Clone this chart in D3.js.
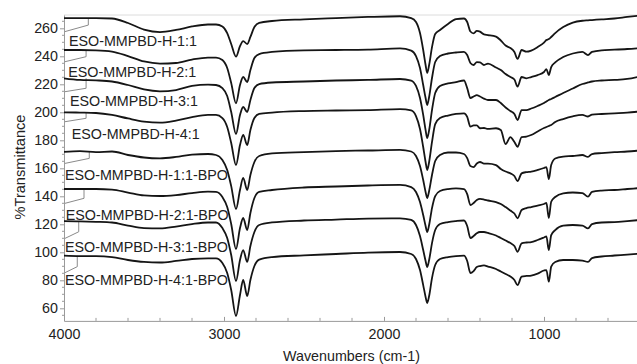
<!DOCTYPE html>
<html>
<head>
<meta charset="utf-8">
<script src="https://cdn.jsdelivr.net/npm/d3@7"></script>
<style>
  html, body { margin: 0; padding: 0; background: #fff; }
  svg { display: block; }
  text { font-family: "Liberation Sans", Arial, sans-serif; }
</style>
</head>
<body>
<svg id="chart" width="637" height="364"></svg>
<script>
// FTIR spectra, %T versus wavenumber (cm-1), stacked with vertical offsets.
const wavenumbers = [4000,3900,3800,3700,3600,3500,3400,3300,3200,3100,
  3050,3010,2980,2955,2925,2900,2880,2855,2835,2810,
  2780,2700,2500,2300,2100,1900,1830,1800,1775,1755,
  1740,1730,1718,1700,1680,1650,1600,1550,1500,1480,
  1460,1440,1420,1400,1375,1350,1300,1270,1240,1210,
  1185,1165,1140,1110,1080,1040,1000,985,970,955,
  930,880,820,760,725,700,640,560,480,400];

const seriesNames = ["ESO-MMPBD-H-1:1","ESO-MMPBD-H-2:1","ESO-MMPBD-H-3:1","ESO-MMPBD-H-4:1",
  "ESO-MMPBD-H-1:1-BPO","ESO-MMPBD-H-2:1-BPO","ESO-MMPBD-H-3:1-BPO","ESO-MMPBD-H-4:1-BPO"];

const tH11 = [267.3,267.3,267.3,267.0,263.8,259.1,257.3,258.8,261.3,262.7,
  262.7,261.3,256.6,248.8,239.7,247.3,250.9,248.8,253.8,260.9,
  263.8,265.2,266.4,267.3,268.1,268.6,267.3,264.5,256.6,244.5,
  233.8,228.1,233.8,246.6,255.9,258.8,263.1,266.6,267.0,264.5,
  257.7,256.4,258.1,257.6,255.6,255.2,254.1,251.3,247.7,245.9,
  243.1,238.1,244.5,243.3,244.1,246.6,249.8,251.6,252.3,253.8,
  256.6,260.9,264.1,265.4,265.7,265.9,266.4,267.0,268.1,269.1];

const tH21 = [244.5,244.5,244.3,243.4,240.2,236.3,234.8,235.2,237.7,239.1,
  239.1,237.3,231.6,220.9,206.4,219.5,225.2,221.6,230.2,238.8,
  241.6,243.1,244.3,244.5,244.8,245.6,244.1,240.2,231.6,219.5,
  210.2,205.2,210.9,224.5,235.9,240.2,242.0,242.7,243.1,240.9,
  235.2,233.8,235.9,235.6,233.8,234.8,232.0,230.2,227.3,225.2,
  223.4,218.3,225.2,224.3,225.2,226.6,228.8,230.9,226.6,232.3,
  235.6,239.5,242.0,243.1,240.9,243.1,244.3,244.7,245.2,245.9];

const tH31 = [224.3,223.1,222.8,222.0,219.5,216.3,215.0,215.9,218.8,219.8,
  219.5,217.3,211.6,200.2,184.5,198.1,203.8,200.2,208.8,217.3,
  220.2,221.3,222.0,222.7,223.1,223.8,222.7,218.8,210.2,198.1,
  187.3,181.6,187.3,201.6,213.8,218.8,220.6,221.6,222.7,217.3,
  210.2,211.3,212.3,211.3,209.8,208.8,208.8,206.6,203.4,200.9,
  198.8,194.5,201.6,201.6,202.7,204.5,206.6,207.7,208.8,209.5,
  210.9,213.8,217.0,220.2,221.3,222.0,222.7,223.1,223.8,225.6];

const tH41 = [200.0,199.8,199.5,198.1,195.6,193.4,192.6,194.1,196.6,198.1,
  198.1,195.9,189.5,178.1,162.3,176.6,183.8,176.6,187.3,195.9,
  198.8,199.8,200.9,201.3,201.6,202.3,201.3,197.3,188.1,175.2,
  164.5,158.8,164.5,178.8,191.6,195.9,197.7,198.8,199.3,196.8,
  189.7,190.6,190.6,188.6,188.8,188.1,188.6,187.3,177.3,182.3,
  178.8,175.4,182.3,182.6,183.8,186.3,188.8,189.5,190.2,190.9,
  193.1,195.2,197.1,198.1,197.0,198.4,198.8,199.3,199.8,200.6];

const tH11BPO = [171.8,172.3,171.6,172.0,169.5,167.7,167.1,168.1,169.8,170.2,
  169.5,165.9,158.8,147.3,130.9,144.5,153.1,144.5,155.2,164.5,
  168.8,170.6,171.6,172.3,172.7,173.1,172.0,168.8,161.6,151.6,
  143.1,138.8,143.8,155.2,165.2,169.5,171.3,171.3,170.2,167.3,
  161.6,160.9,163.4,164.5,163.4,163.4,162.3,159.5,157.7,156.4,
  154.5,150.9,156.4,157.3,157.7,158.8,160.2,160.9,152.3,162.3,
  167.0,168.4,168.8,169.5,168.1,170.2,170.9,171.6,172.0,172.7];

const tH21BPO = [145.2,145.2,145.2,144.8,142.7,140.6,140.2,140.9,142.3,143.3,
  143.1,139.5,132.3,120.2,102.3,117.3,124.5,115.9,128.1,138.8,
  143.1,144.5,146.3,147.0,147.7,148.1,146.6,143.1,135.9,126.6,
  118.8,114.5,119.5,131.6,140.2,143.8,145.2,145.6,145.2,141.6,
  133.8,135.2,137.3,138.1,137.7,137.0,135.9,134.5,132.3,129.8,
  127.7,124.3,130.2,131.6,132.3,133.4,134.5,135.2,124.5,136.1,
  139.5,142.1,142.7,142.3,139.8,143.1,144.1,144.5,145.2,145.9];

const tH31BPO = [122.3,122.1,121.8,121.3,119.1,117.3,117.1,118.4,120.2,121.3,
  121.3,117.3,110.2,98.1,79.5,94.5,101.6,93.1,104.5,114.5,
  119.5,121.3,122.7,123.4,124.1,124.3,123.1,119.5,111.6,101.6,
  93.8,89.5,94.5,106.6,115.9,120.2,121.6,122.3,122.7,118.8,
  110.2,111.6,113.6,114.5,114.5,113.8,112.0,110.2,108.4,106.6,
  104.5,100.4,106.4,107.0,107.3,108.8,110.6,111.3,101.6,112.3,
  115.9,119.1,119.5,119.1,117.1,120.2,121.3,121.6,122.3,123.1];

const tH41BPO = [97.6,97.3,97.3,96.6,94.5,93.1,92.7,93.8,95.2,95.7,
  95.6,92.3,85.2,73.1,54.5,69.5,80.2,68.8,80.2,90.2,
  94.8,96.6,97.8,98.8,99.8,100.2,98.8,95.2,87.3,76.6,
  68.1,63.8,68.8,81.6,90.9,95.2,96.6,97.3,97.6,93.8,
  85.2,86.6,89.5,90.2,90.6,89.8,88.1,86.3,84.5,82.7,
  80.2,76.6,82.6,83.1,83.4,84.8,87.0,87.3,79.0,89.7,
  93.1,94.5,94.5,94.1,93.1,95.9,97.0,97.7,98.4,99.1];

const yTicks = [60, 80, 100, 120, 140, 160, 180, 200, 220, 240, 260];
const xTicks = [4000, 3000, 2000, 1000];

const seriesValues = [tH11, tH21, tH31, tH41, tH11BPO, tH21BPO, tH31BPO, tH41BPO];

// Placement of each name label and its leader line, relative to the trace start.
const leaderLayout = [
  { anchor: 3848, drop: 7.0,  tail: 13.5, dx: 5.0, dy: 27.6 },
  { anchor: 3862, drop: 6.7,  tail: 11.7, dx: 4.3, dy: 27.0 },
  { anchor: 3862, drop: 10.0, tail: 13.4, dx: 6.0, dy: 27.7 },
  { anchor: 3862, drop: 6.0,  tail: 9.4,  dx: 7.7, dy: 27.0 },
  { anchor: 3842, drop: 6.6,  tail: 11.6, dx: 1.0, dy: 28.3 },
  { anchor: 3875, drop: 9.3,  tail: 14.3, dx: 1.7, dy: 30.5 },
  { anchor: 3908, drop: 10.7, tail: 17.3, dx: 1.0, dy: 30.7 },
  { anchor: 3917, drop: 11.0, tail: 17.0, dx: 1.0, dy: 29.3 }
];

const svg = d3.select("#chart");
const plotLeft = 64, plotRight = 640, plotTop = 15, plotBottom = 320.9;

const x = d3.scaleLinear().domain([4000, 400]).range([plotLeft, plotRight]);
const y = d3.scaleLinear().domain([51, 269.5]).range([plotBottom, plotTop]);

const axisColor = "#9a9a9a";
const textColor = "#222";
const fontSize = "14.3px";

// light frame line along the top
svg.append("line")
  .attr("x1", plotLeft).attr("x2", 637)
  .attr("y1", plotTop).attr("y2", plotTop)
  .attr("stroke", "#dcdcdc").attr("stroke-width", 1);

// y axis with minor ticks
const yAxis = svg.append("g")
  .attr("transform", `translate(${plotLeft},0)`)
  .call(d3.axisLeft(y).tickValues(yTicks).tickFormat(d3.format("d"))
    .tickSize(4).tickSizeOuter(0).tickPadding(2));
yAxis.select(".domain").attr("stroke", axisColor);
yAxis.selectAll(".tick line").attr("stroke", axisColor);
yAxis.selectAll(".tick text")
  .attr("fill", textColor).style("font-size", fontSize)
  .style("font-family", "'Liberation Sans', Arial, sans-serif");

const yMinor = d3.range(55, 269, 5).filter(v => v % 20 !== 0);
svg.append("g").selectAll("line").data(yMinor).join("line")
  .attr("x1", plotLeft - 2).attr("x2", plotLeft)
  .attr("y1", d => y(d)).attr("y2", d => y(d))
  .attr("stroke", axisColor).attr("stroke-width", 1);

// x axis with inward ticks
const xAxis = svg.append("g")
  .attr("transform", `translate(0,${plotBottom})`)
  .call(d3.axisBottom(x).tickValues(xTicks).tickFormat(d3.format("d"))
    .tickSize(-4).tickSizeOuter(0).tickPadding(8.4));
xAxis.select(".domain").attr("stroke", axisColor);
xAxis.selectAll(".tick line").attr("stroke", axisColor);
xAxis.selectAll(".tick text")
  .attr("fill", textColor).style("font-size", fontSize)
  .style("font-family", "'Liberation Sans', Arial, sans-serif");

const xMinor = d3.range(3800, 400, -200).filter(v => v % 1000 !== 0);
svg.append("g").selectAll("line").data(xMinor).join("line")
  .attr("x1", d => x(d)).attr("x2", d => x(d))
  .attr("y1", plotBottom).attr("y2", plotBottom - 3)
  .attr("stroke", axisColor).attr("stroke-width", 1);

// axis titles
svg.append("text")
  .attr("x", 351.5).attr("y", 361)
  .attr("text-anchor", "middle")
  .attr("fill", textColor).style("font-size", fontSize)
  .text("Wavenumbers (cm-1)");

svg.append("text")
  .attr("transform", "translate(25,167) rotate(-90)")
  .attr("text-anchor", "middle")
  .attr("fill", textColor).style("font-size", "14.6px")
  .text("%Transmittance");

// leader lines and labels
seriesValues.forEach((vals, i) => {
  const L = leaderLayout[i];
  const y0 = y(vals[0]);
  const xa = x(L.anchor);
  svg.append("path")
    .attr("d", d3.line()([[xa, y0], [xa, y0 + L.drop], [plotLeft + 1, y0 + L.tail]]))
    .attr("fill", "none").attr("stroke", "#8a8a8a").attr("stroke-width", 1);
  svg.append("text")
    .attr("x", plotLeft + L.dx).attr("y", y0 + L.dy)
    .attr("fill", textColor).style("font-size", fontSize)
    .text(seriesNames[i]);
});

// spectra
const line = d3.line()
  .x(d => x(d[0]))
  .y(d => y(d[1]))
  .curve(d3.curveMonotoneX);

svg.append("g").selectAll("path")
  .data(seriesValues.map(vals => wavenumbers.map((w, k) => [w, vals[k]])))
  .join("path")
  .attr("d", line)
  .attr("fill", "none")
  .attr("stroke", "#151515")
  .attr("stroke-width", 1.8)
  .attr("stroke-linejoin", "round");
</script>
</body>
</html>
